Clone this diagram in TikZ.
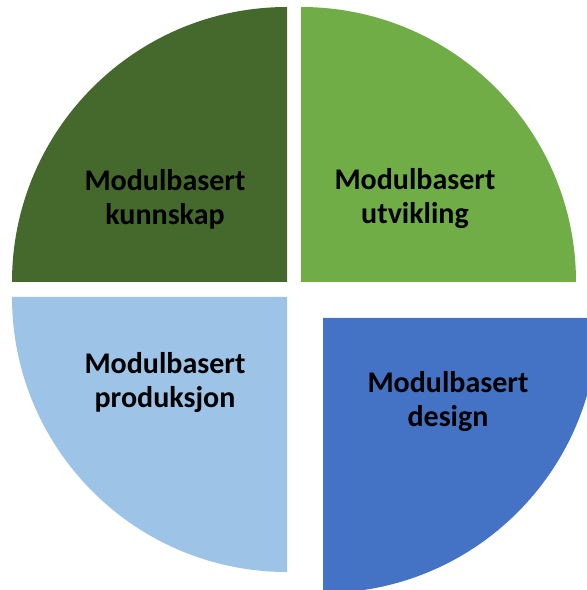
\documentclass[tikz,border=0pt]{standalone}
\usepackage{fontspec}
\setmainfont{Carlito}
\definecolor{dkgreen}{HTML}{45692D}
\definecolor{ltgreen}{HTML}{70AD47}
\definecolor{ltblue}{HTML}{9DC3E6}
\definecolor{midblue}{HTML}{4472C4}
\begin{document}
\begin{tikzpicture}[x=1pt,y=1pt,
  lbl/.style={align=center, font=\fontsize{30}{34}\selectfont\bfseries, text=black, inner sep=0pt}]
\useasboundingbox (0,0) rectangle (587,590);
\clip (0,0) rectangle (587,590);
% four quarter sectors
\fill[dkgreen] (287,308) -- (12,308) arc[start angle=180, end angle=90, radius=275] -- cycle;
\fill[ltgreen] (301,308) -- (301,583) arc[start angle=90, end angle=0, radius=275] -- cycle;
\fill[ltblue] (287,293) -- (12,293) arc[start angle=180, end angle=270, radius=275] -- cycle;
\fill[midblue] (323,272) -- (598,272) arc[start angle=0, end angle=-90, radius=275] -- cycle;
% labels
\node[lbl] (kn) at (165,391) {Modulbasert\\kunnskap};
\node[lbl] (ut) at (415,391) {Modulbasert\\utvikling};
\node[lbl] (pr) at (165,207) {Modulbasert\\produksjon};
\node[lbl] (de) at (448,188) {Modulbasert\\design};
\end{tikzpicture}
\end{document}
